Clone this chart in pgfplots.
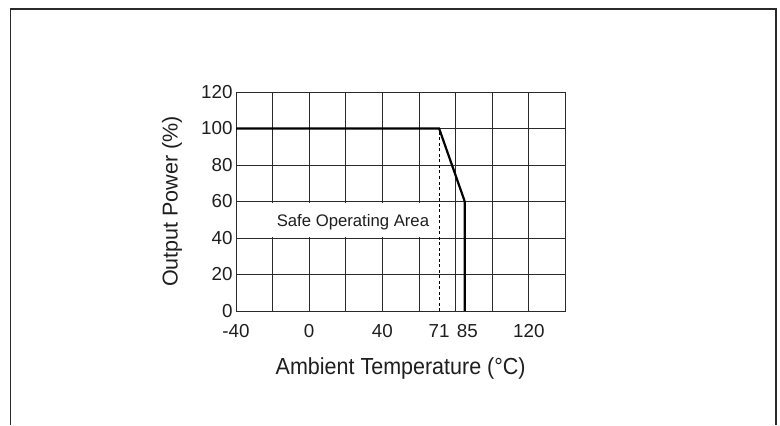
\documentclass[border=0pt]{standalone}
\usepackage{pgfplots}
\pgfplotsset{compat=1.18}
\usepackage{fontspec}
\setmainfont{Liberation Sans}
\definecolor{gridc}{HTML}{2A2A2A}
\definecolor{txt}{HTML}{1E1E1E}
\begin{document}
\begin{tikzpicture}[x=1bp,y=1bp]
\path[use as bounding box] (0,0) rectangle (780,425);
\draw[line width=1.3bp, color=gridc] (10.7,0) -- (10.7,416) -- (776,416) -- (776,0);
\begin{axis}[
  at={(236bp,114bp)}, anchor=south west,
  width=329.4bp, height=219bp, scale only axis,
  xmin=-40, xmax=140, ymin=0, ymax=120,
  xtick={-40,-20,...,140}, xticklabels={-40,,0,,40,,,,120,},
  extra x ticks={71,85}, extra x tick labels={71\hspace{4bp},\hspace{5bp}85},
  extra x tick style={grid=none},
  ytick={0,20,...,120},
  grid=major, major grid style={line width=0.9bp, color=gridc},
  axis line style={line width=0.9bp, color=gridc},
  major tick length=0, minor tick length=0,
  tick label style={font=\fontsize{18.8bp}{22bp}\selectfont, text=txt},
  xticklabel style={yshift=-10bp},
  /pgf/number format/assume math mode=true,
  label style={font=\fontsize{21.5bp}{25bp}\selectfont, text=txt},
  xlabel={\scalebox{1}[1.08]{Ambient Temperature (°C)}},
  ylabel={Output Power (\%)},
  xlabel style={at={(axis description cs:0.5,-0.2922)}, anchor=base},
  ylabel style={at={(axis description cs:-0.1943,0.5)}, anchor=center},
]
\fill[white] (axis cs:-20.6,40.7) rectangle (axis cs:67,59.3);
\node[font=\fontsize{16.7bp}{20bp}\selectfont, text=txt] at (axis cs:23.9,48.8) {Safe Operating Area};
\addplot[line width=0.9bp, black, dash pattern=on 3bp off 2.5bp] coordinates {(71,0) (71,100)};
\addplot[line width=2.2bp, black] coordinates {(-40,100) (71,100) (85,60) (85,0)};
\end{axis}
\end{tikzpicture}
\end{document}
